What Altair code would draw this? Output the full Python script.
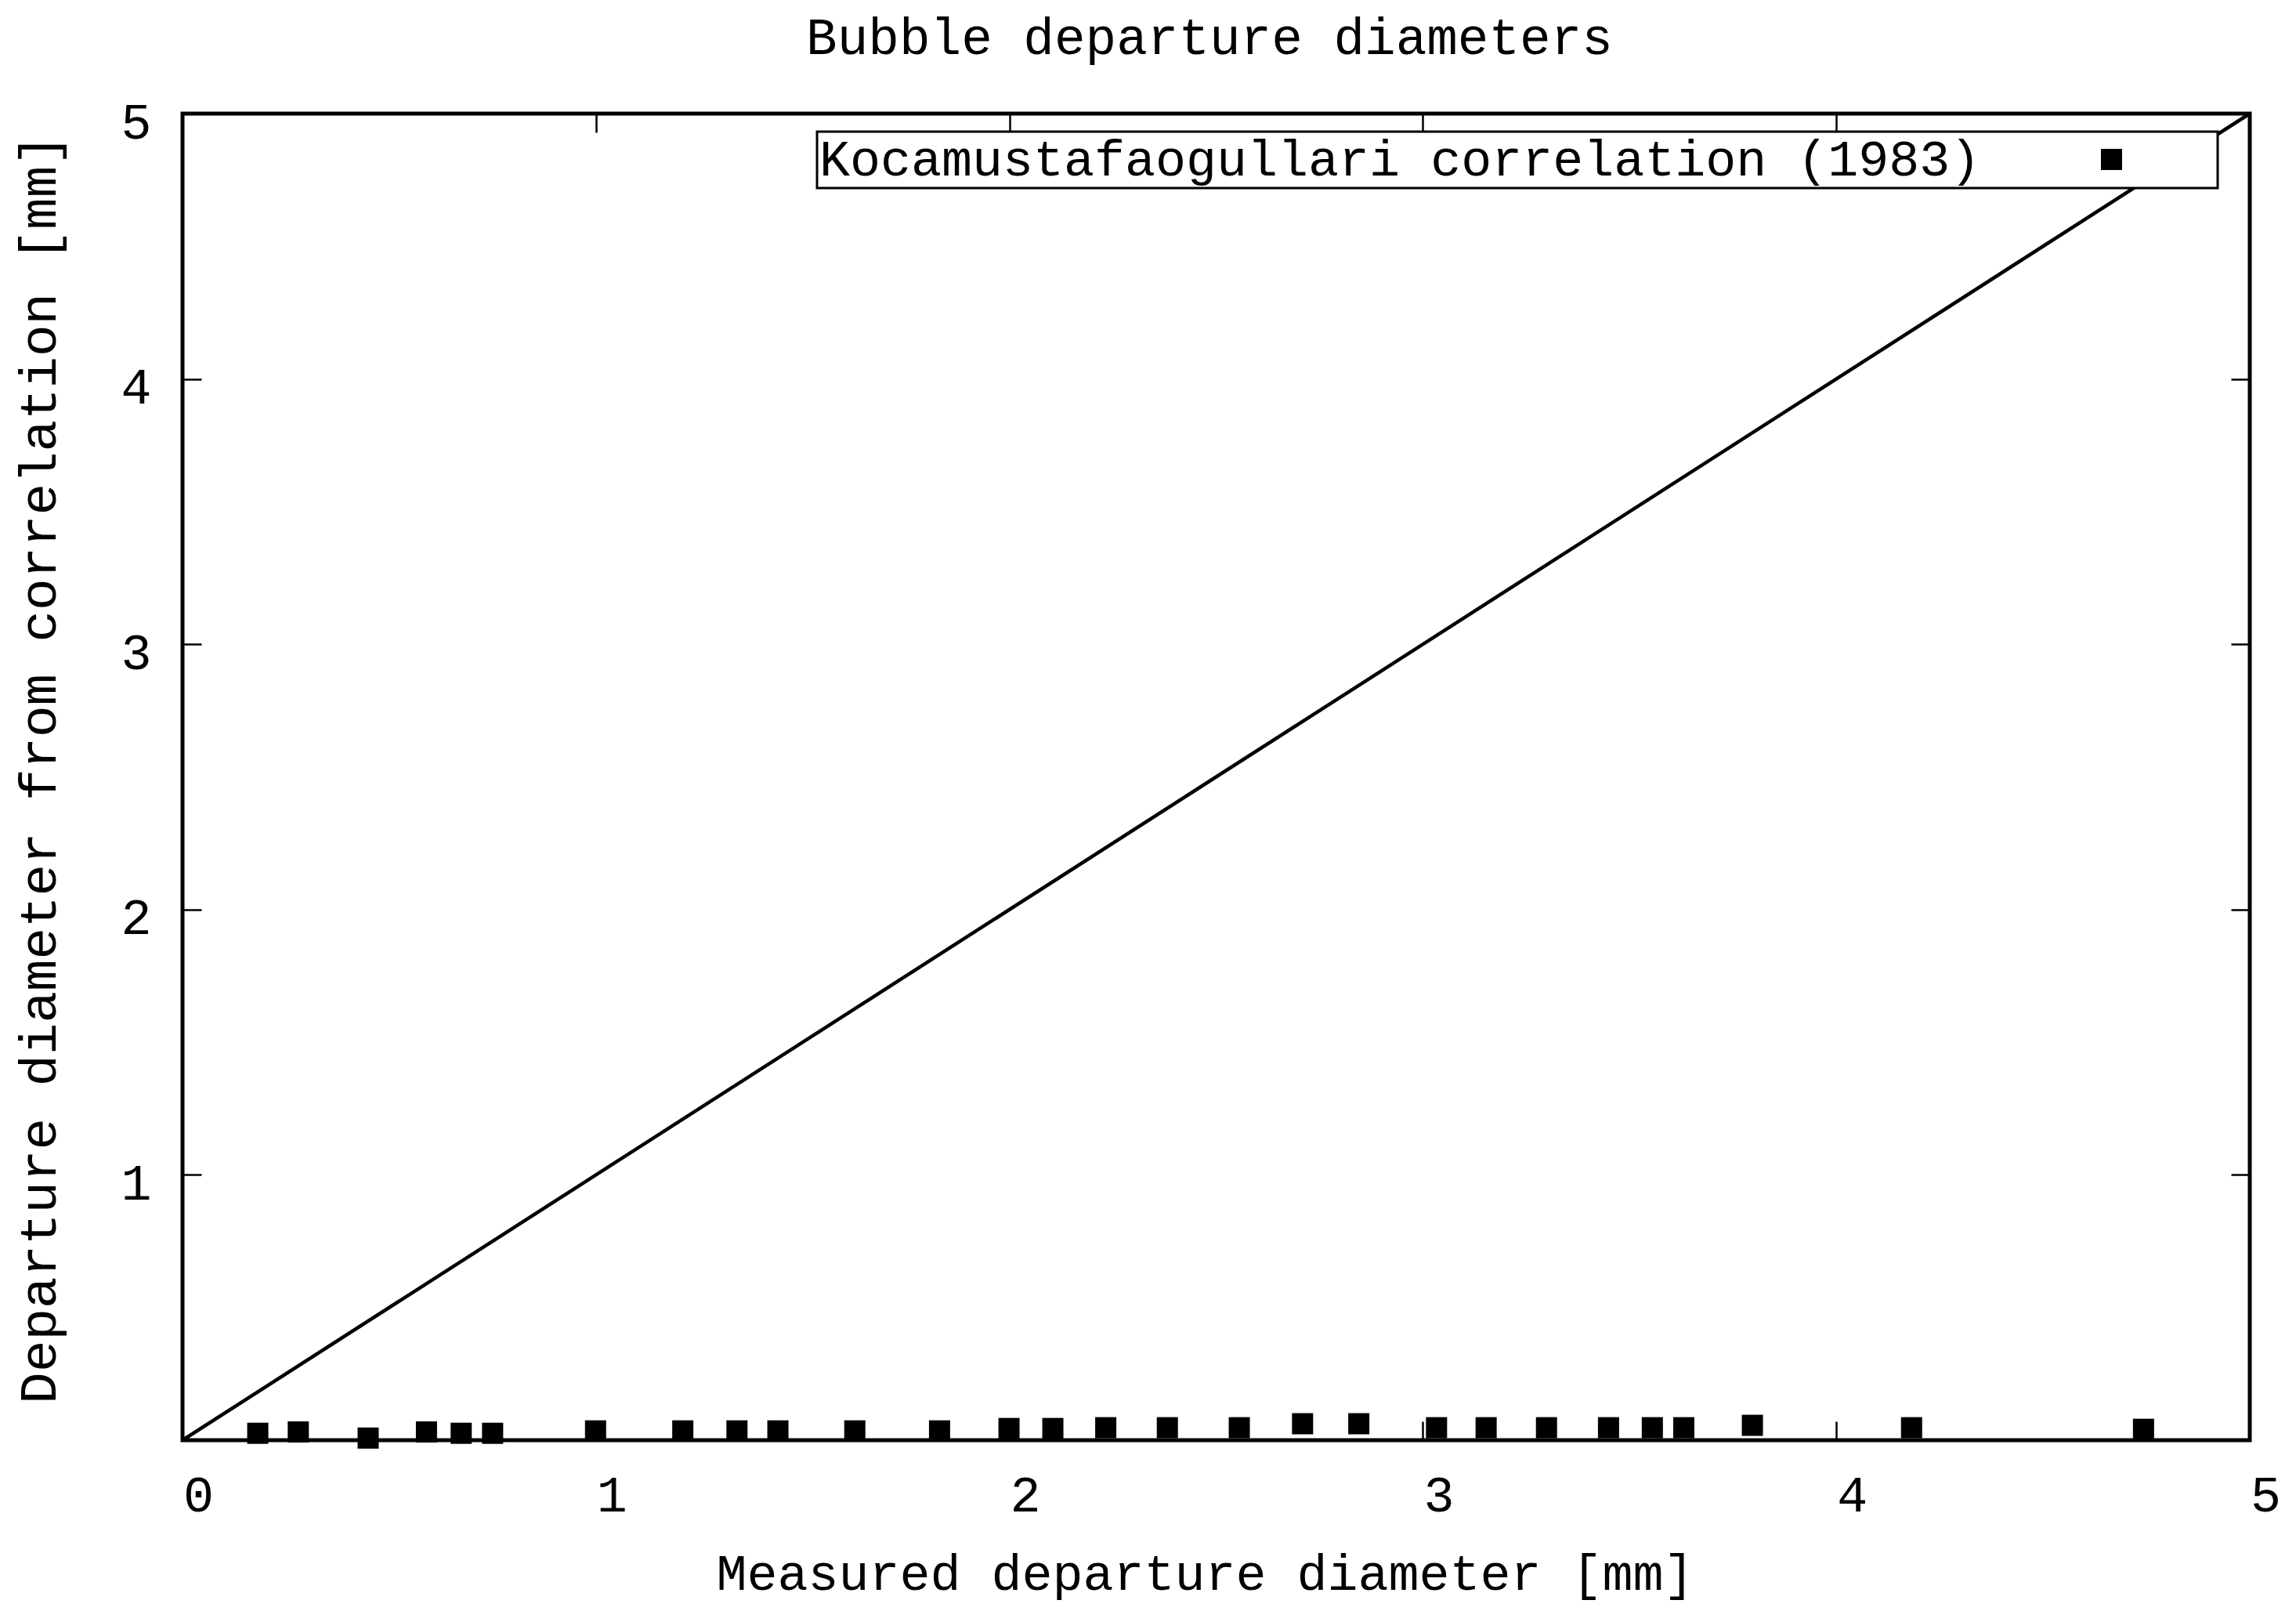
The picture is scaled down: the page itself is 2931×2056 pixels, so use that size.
import altair as alt
import pandas as pd

FONT = "Liberation Mono"

# ---- data ----
measured = [0.182, 0.280, 0.449, 0.590, 0.674, 0.750, 0.999, 1.210, 1.341, 1.440,
            1.626, 1.831, 1.999, 2.105, 2.233, 2.382, 2.556, 2.709, 2.845, 3.033,
            3.153, 3.299, 3.449, 3.555, 3.631, 3.797, 4.182, 4.743]
predicted = [0.026, 0.031, 0.008, 0.031, 0.026, 0.026, 0.035, 0.035, 0.035, 0.035,
             0.035, 0.035, 0.044, 0.044, 0.047, 0.047, 0.047, 0.062, 0.062, 0.047,
             0.047, 0.047, 0.047, 0.047, 0.047, 0.056, 0.047, 0.041]
diag_x = [0, 5]
diag_y = [0, 5]
x_label_values = [0, 1, 2, 3, 4, 5]
y_label_values = [1, 2, 3, 4, 5]
tick_values = [0, 1, 2, 3, 4, 5]
LEGEND_LABEL = "Kocamustafaogullari correlation (1983)"
TITLE = "Bubble departure diameters"
X_TITLE = "Measured departure diameter [mm]"
Y_TITLE = "Departure diameter from correlation [mm]"

W, H = 2639, 1693
FS = 65

pts = pd.DataFrame({"measured": measured, "predicted": predicted,
                    "series": [LEGEND_LABEL] * len(measured)})
diag = pd.DataFrame({"dx": diag_x, "dy": diag_y})

xs = alt.Scale(domain=[0, 5], nice=False, zero=False)
ys = alt.Scale(domain=[0, 5], nice=False, zero=False)


def tick_axis(orient, offset, **kw):
    base = dict(orient=orient, offset=offset, values=tick_values, ticks=True,
                tickSize=24, tickWidth=2.5, tickColor="black", labels=False,
                domain=False, grid=False, title=None)
    base.update(kw)
    return alt.Axis(**base)


line = alt.Chart(diag).mark_line(color="black", strokeWidth=4.5).encode(
    x=alt.X("dx:Q", scale=xs, axis=tick_axis("top", -H)),
    y=alt.Y("dy:Q", scale=ys, axis=tick_axis("right", -W)),
)

points = alt.Chart(pts).mark_square(filled=True, size=729, color="black", opacity=1).encode(
    x=alt.X("measured:Q", scale=xs, axis=alt.Axis(
        orient="bottom", values=x_label_values, ticks=False, tickSize=0, domain=False,
        grid=False, labelFont=FONT, labelFontSize=FS, labelColor="black",
        labelBaseline="alphabetic", labelPadding=90, labelOffset=20, labelFlush=False,
        labelOverlap=False, labelBound=False,
        title=X_TITLE, titleFont=FONT, titleFontSize=FS, titleFontWeight="normal",
        titleColor="black", titleX=1305, titleY=190, titleAlign="center",
        titleBaseline="alphabetic")),
    y=alt.Y("predicted:Q", scale=ys, axis=alt.Axis(
        orient="left", values=y_label_values, ticks=False, tickSize=0, domain=False,
        grid=False, labelFont=FONT, labelFontSize=FS, labelColor="black",
        labelBaseline="middle", labelPadding=40, labelOffset=11, labelFlush=False,
        labelOverlap=False, labelBound=False,
        title=Y_TITLE, titleFont=FONT, titleFontSize=67.5, titleFontWeight="normal",
        titleColor="black", titleX=-163, titleY=836, titleAngle=270,
        titleAlign="center", titleBaseline="alphabetic")),
    color=alt.Color("series:N", scale=alt.Scale(domain=[LEGEND_LABEL], range=["black"]),
                    legend=alt.Legend(
                        orient="none", legendX=810, legendY=23,
                        title=LEGEND_LABEL, titleOrient="left", titleFont=FONT,
                        titleFontSize=FS, titleFontWeight="normal", titleColor="black",
                        titleLimit=4000, titlePadding=134,
                        labelExpr="'\u00a0'", labelFont=FONT, labelFontSize=FS,
                        labelOffset=100, labelLimit=4000,
                        symbolType="square", symbolSize=729, symbolFillColor="black",
                        symbolStrokeWidth=0, symbolOpacity=1,
                        padding=3, strokeColor="black", fillColor="white")),
)

# inward ticks on top/left edges; the top-edge axis also carries the chart title
ticks2 = alt.Chart(diag).mark_point(opacity=0).encode(
    x=alt.X("dx:Q", scale=xs, axis=tick_axis(
        "bottom", -H, title=TITLE, titleFont=FONT, titleFontSize=66,
        titleFontWeight="normal", titleColor="black", titleX=1310.5, titleY=-77,
        titleAlign="center", titleBaseline="alphabetic", titleAngle=0)),
    y=alt.Y("dy:Q", scale=ys, axis=tick_axis("left", -W)),
)

chart = alt.layer(line, points, ticks2).resolve_axis(
    x="independent", y="independent"
).properties(
    width=W, height=H,
    background="white",
    padding={"left": 225, "top": 137, "right": 51, "bottom": 210},
    autosize=alt.AutoSizeParams(type="none"),
).configure_view(stroke="black", strokeWidth=5)

try:
    c2 = chart.configure_legend(strokeWidth=3)
    c2.to_dict()
    chart = c2
except Exception:
    pass

chart.save("out.html", embed_options={"renderer": "svg", "actions": False})
